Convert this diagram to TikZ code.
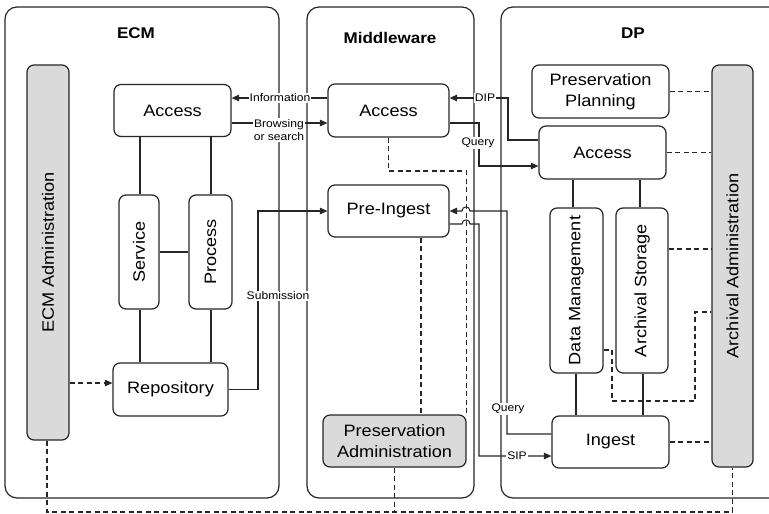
\documentclass[tikz,border=0pt]{standalone}
\usepackage{fontspec}
\setmainfont{Liberation Sans}[FakeStretch=1.1]
\usetikzlibrary{arrows.meta}
\definecolor{ln}{HTML}{262626}
\definecolor{gr}{HTML}{DADADA}
\begin{document}
\begin{tikzpicture}[x=1pt,y=-1pt,
  panel/.style={draw=ln,line width=1.2pt,rounded corners=12pt,inner sep=0pt},
  box/.style={draw=ln,line width=1.2pt,rounded corners=7pt,inner sep=0pt,align=center,
    font=\fontsize{16.5}{20.5}\selectfont},
  gbox/.style={box,fill=gr},
  rtext/.style={rotate=90,font=\fontsize{16.5}{20}\selectfont,inner sep=0pt},
  ttl/.style={font=\fontsize{15.5}{18}\selectfont\bfseries},
  lbl/.style={fill=white,inner sep=1pt,align=center,font=\fontsize{11}{13.5}\selectfont},
  con/.style={draw=ln,line width=1.05pt},
  arr/.style={con,-{Triangle[length=7.5pt,width=6.5pt]}},
  dsh/.style={con,dash pattern=on 5pt off 3.5pt},
  darr/.style={dsh,-{Triangle[length=7.5pt,width=6.5pt]}}]
\useasboundingbox (0,0) rectangle (769,514);

% panels
\node[panel,minimum width=274,minimum height=491] (ecmp) at (142,252.5) {};
\node[panel,minimum width=167,minimum height=491] (mwp) at (390.5,252.5) {};
\node[panel,minimum width=289,minimum height=491] (dpp) at (645.5,252.5) {};
\node[ttl] (ecmt) at (136,33) {ECM};
\node[ttl] (mwt) at (390,38) {Middleware};
\node[ttl] (dpt) at (633,33) {DP};

% ECM
\node[gbox,minimum width=42,minimum height=375] (ecmadmin) at (48,252.5) {};
\node[rtext] (ecmadmint) at (ecmadmin) {ECM Administration};
\node[box,minimum width=117,minimum height=52] (eacc) at (172.5,110.5) {Access};
\node[box,minimum width=40,minimum height=114] (service) at (139,252) {};
\node[rtext] (servicet) at (service) {Service};
\node[box,minimum width=43,minimum height=114] (process) at (210.5,252) {};
\node[rtext] (processt) at (process) {Process};
\node[box,minimum width=115,minimum height=53] (repo) at (170.5,389.5) {Repository};

% Middleware
\node[box,minimum width=121,minimum height=53] (macc) at (388.5,110.5) {Access};
\node[box,minimum width=121,minimum height=52] (pre) at (388.5,211) {Pre-Ingest};
\node[gbox,minimum width=143,minimum height=52] (padm) at (394.5,441) {Preservation\\Administration};

% DP
\node[box,minimum width=137,minimum height=53] (pplan) at (600.5,91.5) {Preservation\\Planning};
\node[box,minimum width=127,minimum height=53] (dacc) at (602.5,152.5) {Access};
\node[box,minimum width=53,minimum height=165] (dm) at (576.5,290.5) {};
\node[rtext] (dmt) at (dm) {Data Management};
\node[box,minimum width=52,minimum height=165] (as) at (642,290.5) {};
\node[rtext] (ast) at (as) {Archival Storage};
\node[box,minimum width=117,minimum height=52] (ingest) at (610.5,442) {Ingest};
\node[gbox,minimum width=41,minimum height=402] (aadm) at (732.5,266) {};
\node[rtext] (aadmt) at (aadm) {Archival Administration};

% ECM connectors
\draw[con] (service.north -| 140,0) -- (eacc.south -| 140,0);
\draw[con] (process.north -| 211,0) -- (eacc.south -| 211,0);
\draw[con] (service.south -| 140,0) -- (repo.north -| 140,0);
\draw[con] (process.south -| 211,0) -- (repo.north -| 211,0);
\draw[con] (service.east) -- (process.west);
\draw[darr] (ecmadmin.east |- 0,383) -- (repo.west |- 0,383);

% ECM <-> Middleware
\draw[arr] (macc.west |- 0,98) -- (eacc.east |- 0,98);
\draw[arr] (eacc.east |- 0,123) -- (macc.west |- 0,123);
\node[lbl] (linfo) at (280,98) {Information};
\node[lbl] (lbrow) at (279,130) {Browsing\\or search};
\draw[arr] (repo.east) -- (258,389.5) |- (pre.west);
\node[lbl] (lsub) at (278,296) {Submission};

% Middleware <-> DP
\draw[arr] (dacc.west |- 0,140) -| (508,98) -- (macc.east |- 0,98);
\node[lbl] (ldip) at (485,98) {DIP};
\draw[arr] (macc.east |- 0,123) -| (479,166) -- (dacc.west |- 0,166);
\node[lbl] (lq1) at (478,143) {Query};

\draw[dsh] (macc.south) |- (padm.north east |- 0,171) -- (padm.north east);
\draw[dsh] (pre.south -| 421,0) -- (padm.north -| 421,0);

\draw[arr] (ingest.west |- 0,434) -- (507,434) -- (507,211) -- (470,211)
  .. controls (470,205.5) and (462,205.5) .. (462,211) -- (pre.east);
\draw[arr] (pre.east |- 0,224) -- (462,224) .. controls (462,218.5) and (470,218.5) .. (470,224)
  -- (479,224) -- (479,456) -- (ingest.west |- 0,456);
\node[lbl] (lq2) at (508,409) {Query};
\node[lbl] (lsip) at (517,456) {SIP};

% DP connectors
\draw[con] (dacc.south -| 573,0) -- (dm.north -| 573,0);
\draw[con] (dacc.south -| 640,0) -- (as.north -| 640,0);
\draw[con] (dm.south -| 576,0) -- (ingest.north -| 576,0);
\draw[con] (as.south -| 643,0) -- (ingest.north -| 643,0);

\draw[dsh] (pplan.east) -- (aadm.west |- pplan.east);
\draw[dsh] (dacc.east) -- (aadm.west |- dacc.east);
\draw[dsh] (as.east |- 0,249) -- (aadm.west |- 0,249);
\draw[dsh] (ingest.east) -- (aadm.west |- ingest.east);
\draw[dsh] (dm.east |- 0,350) -| (612,401) -| (695,312) -- (aadm.west |- 0,312);

% bottom dashed
\draw[dsh] (ecmadmin.south -| 47,0) |- (aadm.south |- 0,512) -- (aadm.south);
\draw[dsh] (padm.south) -- (padm.south |- 0,512);
\end{tikzpicture}
\end{document}
